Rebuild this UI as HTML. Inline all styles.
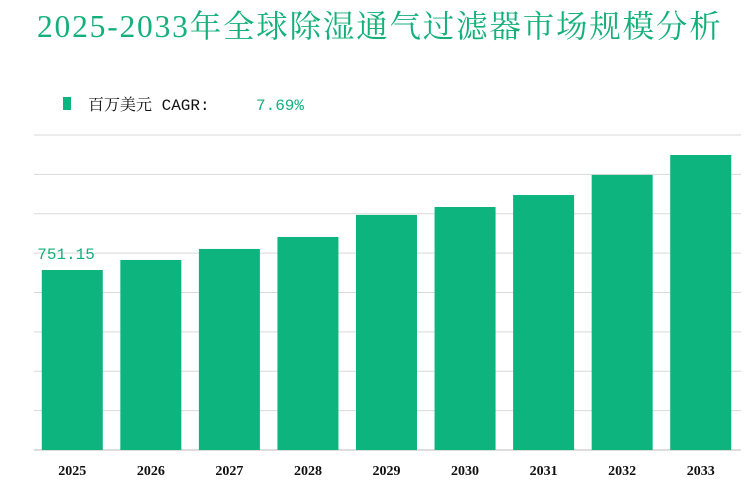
<!DOCTYPE html>
<html><head><meta charset="utf-8"><style>
body{margin:0;background:#fff;}
#wrap{position:relative;width:749px;height:486px;overflow:hidden;font-family:"Liberation Serif","Noto Serif CJK SC",serif;}
</style></head><body>
<div id="wrap">
<svg id="svg" width="749" height="486" xmlns="http://www.w3.org/2000/svg">
<text x="37" y="37" font-size="31.5" letter-spacing="1.8" fill="#14b07a" font-family="Liberation Serif, Noto Serif CJK SC, serif">2025-2033年全球除湿通气过滤器市场规模分析</text>
<rect x="63" y="97" width="8" height="13" fill="#0db47e"/>
<text x="88" y="110" font-size="16" fill="#111" font-family="Liberation Mono, Noto Serif CJK SC, serif">百万美元 CAGR:</text>
<text x="256" y="110" font-size="16" fill="#14b07a" font-family="Liberation Mono, serif">7.69%</text>
<g id="grid"></g><g id="bars"></g><g id="labels"></g>
</svg>
</div>
<script>
const categories=["2025","2026","2027","2028","2029","2030","2031","2032","2033"];
const values=[751.15,793,839,889,981,1014,1064,1148,1231];
const gridTicks=[0,1,2,3,4,5,6,7,8];
const firstLabel="751.15";
const NS="http://www.w3.org/2000/svg";
const x0=34,x1=741,yBase=450,yTop=135,yMax=1314.5;
const pitch=(x1-x0)/categories.length, bw=61;
function y(v){return yBase-(v/yMax)*(yBase-yTop);}
function xc(i){return x0+pitch*(i+0.5)-1;}
const grid=document.getElementById('grid');
gridTicks.forEach(t=>{
 const l=document.createElementNS(NS,'line');
 const yy=yBase-(yBase-yTop)*t/8;
 l.setAttribute('x1',x0);l.setAttribute('x2',x1);l.setAttribute('y1',yy);l.setAttribute('y2',yy);
 l.setAttribute('stroke',t===0?'#bbb':'#d9d9d9');l.setAttribute('stroke-width','1');
 
 
 grid.appendChild(l);
});
const bars=document.getElementById('bars'),labels=document.getElementById('labels');
values.forEach((v,i)=>{
 const r=document.createElementNS(NS,'rect');
 r.setAttribute('x',xc(i)-bw/2);r.setAttribute('y',y(v));r.setAttribute('width',bw);r.setAttribute('height',yBase-y(v));
 r.setAttribute('fill','#0db47e');
 
 
 bars.appendChild(r);
 const t=document.createElementNS(NS,'text');
 t.setAttribute('x',xc(i));t.setAttribute('y',475);t.setAttribute('text-anchor','middle');
 t.setAttribute('font-size','14');t.setAttribute('font-weight','bold');t.setAttribute('fill','#111');
 t.textContent=categories[i];
 
 
 labels.appendChild(t);
});
const vl=document.createElementNS(NS,'text');
vl.setAttribute('x',xc(0)-35);vl.setAttribute('y',y(values[0])-11);
vl.setAttribute('font-size','16');vl.setAttribute('fill','#14b07a');vl.setAttribute('font-family','Liberation Mono, serif');
vl.textContent=firstLabel;


labels.appendChild(vl);
</script>
</body></html>
